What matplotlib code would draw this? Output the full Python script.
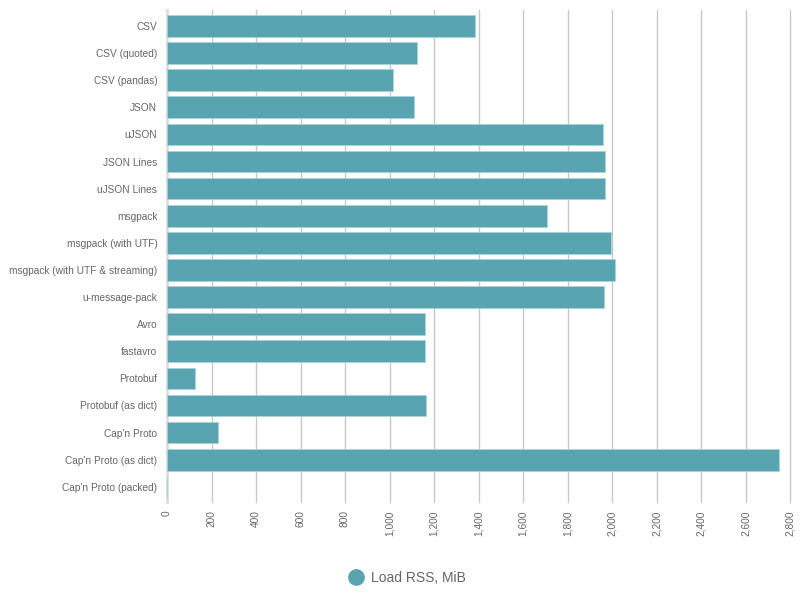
import matplotlib.pyplot as plt
from matplotlib.lines import Line2D
from matplotlib.ticker import FuncFormatter

plt.rcParams['font.family'] = ['Liberation Sans', 'DejaVu Sans']

formats = ['CSV', 'CSV (quoted)', 'CSV (pandas)', 'JSON', 'uJSON', 'JSON Lines',
           'uJSON Lines', 'msgpack', 'msgpack (with UTF)',
           'msgpack (with UTF & streaming)', 'u-message-pack', 'Avro', 'fastavro',
           'Protobuf', 'Protobuf (as dict)', "Cap'n Proto", "Cap'n Proto (as dict)",
           "Cap'n Proto (packed)"]
load_rss = [1384, 1125, 1017, 1110, 1961, 1970, 1970, 1709, 1996, 2013, 1965,
            1160, 1160, 127, 1164, 231, 2752, 0]
x_ticks = list(range(0, 2801, 200))

bar_color = '#58a4b0'
text_color = '#666666'

fig = plt.figure(figsize=(8, 6), dpi=100)
ax = fig.add_axes([167 / 800, 1 - 502 / 600, 623 / 800, 492 / 600])

ypos = list(range(len(formats)))
ax.barh(ypos, load_rss, height=0.8, color=bar_color, edgecolor='#a9d3da',
        linewidth=0.6, zorder=3)

ax.set_xlim(0, 2800)
ax.set_ylim(17.56, -0.59)
ax.set_yticks(ypos)
ax.set_yticklabels(formats)
ax.set_xticks(x_ticks)
ax.xaxis.set_major_formatter(FuncFormatter(lambda v, p: f'{int(v):,}'))
ax.tick_params(axis='x', labelrotation=90, length=0, pad=6,
               labelsize=7.3, labelcolor=text_color)
ax.tick_params(axis='y', length=0, pad=7, labelsize=7.3, labelcolor=text_color)
for lbl in ax.get_xticklabels():
    lbl.set_verticalalignment('top')

ax.grid(axis='x', color='#c8c8c8', linewidth=1.0, zorder=0)
for gl in ax.get_xgridlines():
    gl.set_clip_on(False)
ax.set_axisbelow(True)
for side in ['top', 'right', 'bottom']:
    ax.spines[side].set_visible(False)
ax.spines['left'].set_color('#dddddd')
ax.spines['left'].set_linewidth(2)

handle = Line2D([], [], marker='o', linestyle='none', markersize=11,
                markerfacecolor=bar_color, markeredgecolor=bar_color)
fig.legend([handle], ['Load RSS, MiB'], loc='center', bbox_to_anchor=(0.505, 1 - 578 / 600),
           frameon=False, fontsize=10, labelcolor=text_color,
           handletextpad=0.1, borderaxespad=0)

fig.savefig('out.png', dpi=100)
